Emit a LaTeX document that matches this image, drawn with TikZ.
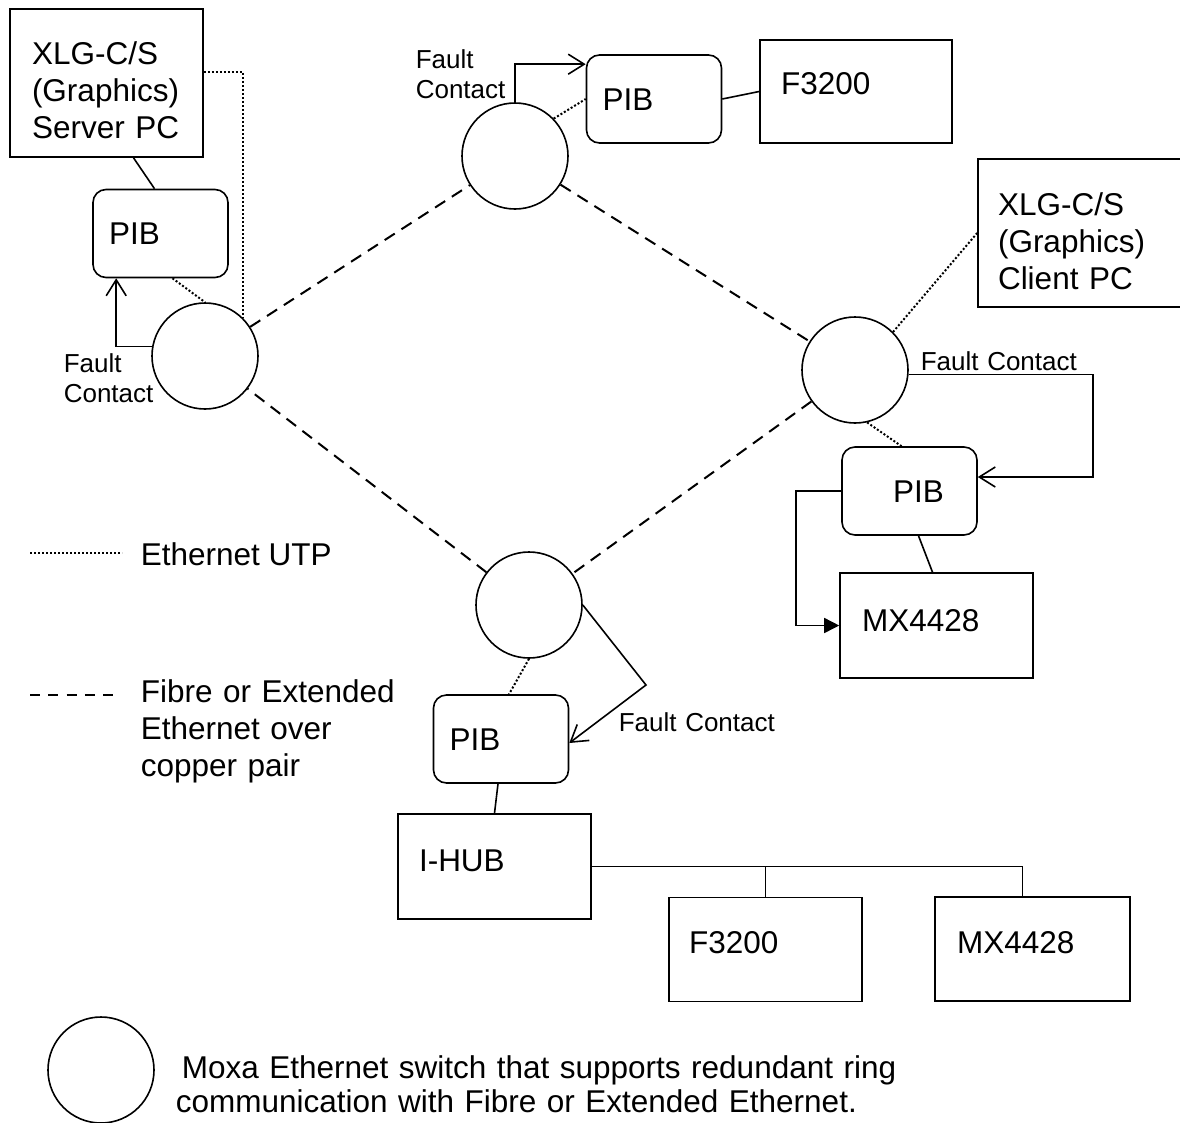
\documentclass[tikz,border=0pt]{standalone}
\usepackage{fontspec}
\setmainfont{Liberation Sans}
\usetikzlibrary{arrows.meta}

\begin{document}
\begin{tikzpicture}[x=1pt, y=-1pt, line width=1.6pt,
        every node/.style = {font=\fontsize{31.5}{37}\selectfont},
        sw/.style = {draw, circle, minimum size=106pt, inner sep=0pt},
        pib/.style = {draw, rounded corners=13pt, minimum width=135pt, minimum height=88pt, text width=103pt, inner xsep=16pt, align=left, text height=22pt, text depth=0pt},
        box/.style = {draw, align=left, text height=22pt},
        txt/.style = {anchor=base west, align=left, inner sep=0pt},
        fc/.style = {txt, text width=120pt, font=\fontsize{26}{30}\selectfont},
        utp/.style = {line width=2pt, dash pattern=on 2pt off 2pt},
        fibre/.style = {line width=2pt, dash pattern=on 12pt off 8pt},
        open/.style = {-{Straight Barb[length=16pt, width=20pt]}}]
        \useasboundingbox (0,0) rectangle (1180,1122);
        \node[sw] (swL) at (205,356) {};
        \node[sw] (swT) at (515,156) {};
        \node[sw] (swR) at (855,370) {};
        \node[sw] (swB) at (529,605) {};
        \node[box, minimum width=193pt, minimum height=148pt, text width=149pt, inner xsep=22pt, text height=38pt] (srv) at (106.5,83) {XLG-C/S\\(Graphics)\\Server PC};
        \node[box, minimum width=222pt, minimum height=148pt, text width=182pt, inner xsep=20pt, text height=39pt] (cli) at (1089,233) {XLG-C/S\\(Graphics)\\Client PC};
        \node[pib] (pibL) at (160.5,233.5) {PIB};
        \node[pib] (pibT) at (654,99) {PIB};
        \node[pib] (pibR) at (909.5,491) {\hspace*{35pt}PIB};
        \node[pib] (pibB) at (501,739) {PIB};
        \node[box, minimum width=192pt, minimum height=103pt, text width=150pt, inner xsep=21pt, text depth=15.5pt] (fT) at (856,91.5) {F3200};
        \node[box, minimum width=193pt, minimum height=105pt, text width=149pt, inner xsep=22pt, text depth=9.5pt] (mxR) at (936.5,625.5) {MX4428};
        \node[box, minimum width=193pt, minimum height=105pt, text width=151pt, inner xsep=21pt, text depth=11.5pt] (hub) at (494.5,866.5) {I-HUB};
        \node[box, minimum width=193pt, minimum height=104pt, text width=153pt, inner xsep=20pt, text depth=13.5pt] (f2) at (765.5,949.5) {F3200};
        \node[box, minimum width=195pt, minimum height=104pt, text width=151pt, inner xsep=22pt, text depth=13.5pt] (mx2) at (1032.5,949) {MX4428};

        \draw[utp] ([yshift=11pt]srv.east) -| (swL.45);
        \draw[utp] ([xshift=12pt]pibL.south) -- (swL.north);
        \draw[utp] (swT.44) -- (pibT.west);
        \draw[utp] (swR.45) -- (cli.west);
        \draw[utp] (swR.-77) -- ([xshift=-8pt]pibR.north);
        \draw[utp] (swB.south) -- ([xshift=8pt]pibB.north);

        \draw[fibre] (swL) -- (swT);
        \draw[fibre] (swT) -- (swR);
        \draw[fibre] (swR) -- (swB);
        \draw[fibre] (swB) -- (swL);

        \coordinate (fcR) at (1093,477);
        \coordinate (fcB) at (646,685);
        \draw[open] (swL.170) -| ([xshift=24pt]pibL.south west);
        \draw[open] (swT.north) |- ([yshift=-10pt]pibT.north west);
        \draw[open] (swR.-5) -| (fcR) -- ([yshift=14pt]pibR.east);
        \draw[open] (swB.east) -- (fcB) -- ([yshift=-4pt]pibB.east);
        \node[fc] (fcLt) at (63,372) {Fault\\Contact};
        \node[fc] (fcTt) at (415,68) {Fault\\Contact};
        \node[fc, text width=200pt] (fcRt) at (920,370) {Fault Contact};
        \node[fc, text width=200pt] (fcBt) at (618,731) {Fault Contact};

        \draw ([xshift=27pt]srv.south) -- ([xshift=-6pt]pibL.north);
        \draw (pibT.east) -- (fT.west);
        \draw ([xshift=9pt]pibR.south) -- ([xshift=-4pt]mxR.north);
        \draw[-{Triangle[length=15pt, width=15pt]}] (pibR.west) -- ++(-45,0) |- (mxR.west);
        \draw ([xshift=-3pt]pibB.south) -- (hub.north);
        \draw (hub.east) -| ([xshift=-10pt]mx2.north);
        \draw (f2.north) -- (f2.north |- hub.east);

        \coordinate (u1) at (30,553);
        \coordinate (u2) at (122,553);
        \draw[utp] (u1) -- (u2);
        \node[txt] (utpt) at (140,565) {Ethernet UTP};
        \coordinate (d1) at (30,695);
        \coordinate (d2) at (113,695);
        \draw[fibre, dash pattern=on 10pt off 8.25pt] (d1) -- (d2);
        \node[txt, text width=300pt] (fibt) at (140,702) {Fibre or Extended\\Ethernet over\\copper pair};
        \node[sw] (swK) at (101,1070) {};
        \node[txt, text width=800pt, font=\fontsize{31.5}{34}\selectfont] (swKt) at (175,1078) {\hspace*{6pt}Moxa Ethernet switch that supports redundant ring\\communication with Fibre or Extended Ethernet.};
\end{tikzpicture}
\end{document}
